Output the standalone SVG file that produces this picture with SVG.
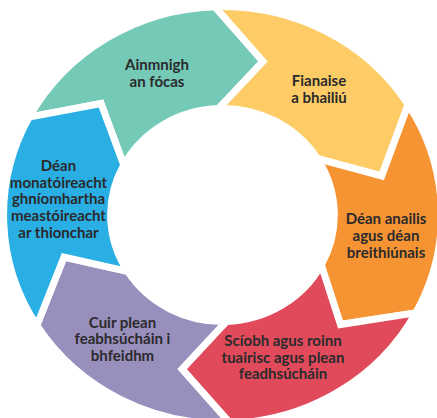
<svg xmlns="http://www.w3.org/2000/svg" width="437" height="418" viewBox="0 0 437 418">
<style>
.seg{stroke:#fff;stroke-width:7;stroke-linejoin:miter;stroke-miterlimit:10}
.lbl{font-family:Lato,"Open Sans","Liberation Sans",sans-serif;font-weight:700;font-size:15px;fill:#2b2a2c;text-anchor:middle}
</style>
<rect width="437" height="418" fill="#fff"/>
<g id="connectors"></g>
<g id="node-teal">
<path class="seg" fill="#74C9B7" d="M29.20,117.12 A218.925 208.5 0 0 1 214.86,6.63 L263,61.5 L218.60,108.57 A111.825 106.5 0 0 0 123.76,165.00 L101,103.5 Z"/>
<text class="lbl" x="157" y="70">Ainmnigh</text>
<text class="lbl" x="157" y="87">an fócas</text>
</g>
<g id="node-yellow">
<path class="seg" fill="#FDCC66" d="M214.86,6.63 A218.925 208.5 0 0 1 408.16,104.51 L381.7,176 L317.33,158.56 A111.825 106.5 0 0 0 218.60,108.57 L263,61.5 Z"/>
<text class="lbl" x="319" y="86">Fianaise</text>
<text class="lbl" x="319" y="103">a bhailiú</text>
</g>
<g id="node-orange">
<path class="seg" fill="#F69434" d="M408.16,104.51 A218.925 208.5 0 0 1 415.80,312.89 L340.5,324.5 L321.24,265.00 A111.825 106.5 0 0 0 317.33,158.56 L381.7,176 Z"/>
<text class="lbl" x="386" y="224">Déan anailis</text>
<text class="lbl" x="386" y="241">agus déan</text>
<text class="lbl" x="386" y="257.5">breithiúnais</text>
</g>
<g id="node-red">
<path class="seg" fill="#E04A5A" d="M415.80,312.89 A218.925 208.5 0 0 1 230.14,423.37 L182,369 L226.40,321.44 A111.825 106.5 0 0 0 321.24,265.00 L340.5,324.5 Z"/>
<text class="lbl" x="283" y="346">Scíobh agus roinn</text>
<text class="lbl" x="283" y="362.5">tuairisc agus plean</text>
<text class="lbl" x="283" y="379">feadhsúcháin</text>
</g>
<g id="node-purple">
<path class="seg" fill="#988FBD" d="M230.14,423.37 A218.925 208.5 0 0 1 36.84,325.49 L64,257 L127.67,271.44 A111.825 106.5 0 0 0 226.40,321.44 L182,369 Z"/>
<text class="lbl" x="122.5" y="327.5">Cuir plean</text>
<text class="lbl" x="122.5" y="344">feabhsúcháin i</text>
<text class="lbl" x="122.5" y="360.5">bhfeidhm</text>
</g>
<g id="node-blue">
<path class="seg" fill="#29AFE4" d="M36.84,325.49 A218.925 208.5 0 0 1 29.20,117.12 L101,103.5 L123.76,165.00 A111.825 106.5 0 0 0 127.67,271.44 L64,257 Z"/>
<text class="lbl" x="58.5" y="171">Déan</text>
<text class="lbl" x="58.5" y="187.5">monatóireacht</text>
<text class="lbl" x="58.5" y="204">ghníomhartha</text>
<text class="lbl" x="58.5" y="221">meastóireacht</text>
<text class="lbl" x="58.5" y="237.5">ar thionchar</text>
</g>
</svg>
